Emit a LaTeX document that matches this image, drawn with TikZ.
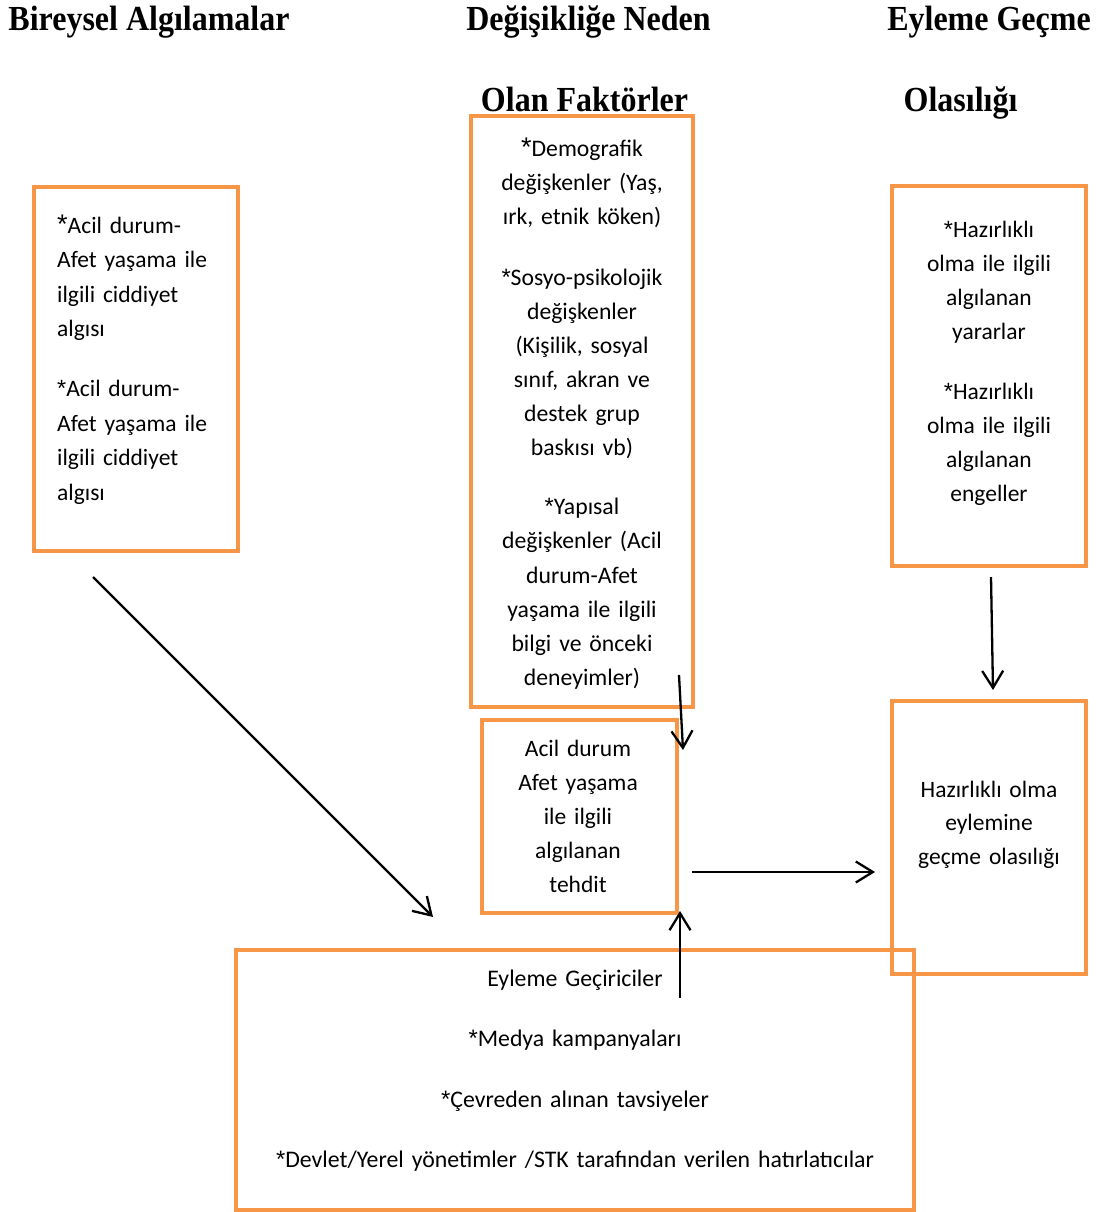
\documentclass[tikz,border=0pt]{standalone}
\usepackage{graphicx}
\usepackage{fontspec}
\setmainfont{Carlito}
\newfontfamily\headfont{Liberation Serif}
\newfontfamily\starfont{Liberation Sans}
\usetikzlibrary{arrows.meta}
\definecolor{boxorange}{RGB}{247,150,70}
\tikzset{
  obox/.style={draw=boxorange, line width=4pt, inner sep=0pt, rectangle},
  head/.style={font=\headfont\bfseries\fontsize{32}{32}\selectfont, inner sep=0pt, anchor=base},
  body/.style={font=\fontsize{23.5}{34.5}\selectfont, inner sep=0pt, anchor=base, align=center, text width=#1},
  body/.default=260pt,
  arr/.style={draw=black, line width=2.3pt, -{Straight Barb[length=17pt,width=21pt,line width=2.3pt]}}
}
% bullet asterisks
\newcommand{\bulletast}{{\starfont *}}
\newcommand{\bigbulletast}{{\starfont\fontsize{27}{27}\selectfont *}}
\begin{document}
\begin{tikzpicture}[x=1pt,y=-1pt]
\useasboundingbox (0,0) rectangle (1098,1212);

% column headings
\node[head] (h1) at (149,31) {\scalebox{1}[1.1]{Bireysel Algılamalar}};
\node[head] (h2) at (588.5,31) {\scalebox{1}[1.1]{Değişikliğe Neden}};
\node[head] (h3) at (989,31) {\scalebox{1}[1.1]{Eyleme Geçme}};
\node[head] (h4) at (584.5,112) {\scalebox{1}[1.1]{Olan Faktörler}};
\node[head] (h5) at (960.5,112) {\scalebox{1}[1.1]{Olasılığı}};

% frames
\node[obox, minimum width=204pt, minimum height=364pt] (lbox) at (136,369) {};
\node[obox, minimum width=222pt, minimum height=591pt] (fbox) at (582,411.5) {};
\node[obox, minimum width=195pt, minimum height=193pt] (tbox) at (579.5,816.5) {};
\node[obox, minimum width=194pt, minimum height=380pt] (pbox) at (989,376) {};
\node[obox, minimum width=194pt, minimum height=273pt] (obx) at (989,837.5) {};
\node[obox, minimum width=678pt, minimum height=260pt] (cbox) at (575,1080) {};

% texts inside the frames
\node[body=200pt, align=left, anchor=base west] (ltext) at (57,233)
  {\bigbulletast Acil durum-\\Afet yaşama ile\\ilgili ciddiyet\\algısı\\[25.5pt]
   \bulletast Acil durum-\\Afet yaşama ile\\ilgili ciddiyet\\algısı};
\node[body=220pt, font=\fontsize{23.7}{34}\selectfont] (ftext) at (582,157)
  {\bigbulletast Demografik\\değişkenler (Yaş,\\ırk, etnik köken)\\[26pt]
   \bulletast Sosyo-psikolojik\\değişkenler\\(Kişilik, sosyal\\sınıf, akran ve\\destek grup\\baskısı vb)\\[26pt]
   \bulletast Yapısal\\değişkenler (Acil\\durum-Afet\\yaşama ile ilgili\\bilgi ve önceki\\deneyimler)};
\node[body=190pt, font=\fontsize{23.5}{34}\selectfont] (ttext) at (578,756)
  {Acil durum\\Afet yaşama\\ile ilgili\\algılanan\\tehdit};
\node[body=190pt, font=\fontsize{23.5}{34}\selectfont] (ptext) at (989,237)
  {\bulletast Hazırlıklı\\olma ile ilgili\\algılanan\\yararlar\\[26pt]
   \bulletast Hazırlıklı\\olma ile ilgili\\algılanan\\engeller};
\node[body=190pt, font=\fontsize{23.5}{33.5}\selectfont] (otext) at (989,797)
  {Hazırlıklı olma\\eylemine\\geçme olasılığı};
\node[body=670pt, font=\fontsize{23.8}{60.5}\selectfont] (ctext) at (575,986)
  {Eyleme Geçiriciler\\\bulletast Medya kampanyaları\\\bulletast Çevreden alınan tavsiyeler\\\bulletast Devlet/Yerel yönetimler /STK tarafından verilen hatırlatıcılar};

% connector end points
\coordinate (a1s) at (93,577);
\coordinate (a1e) at (433,917);
\coordinate (a2s) at (679,675);
\coordinate (a2e) at (683,750);
\coordinate (a3s) at (692,872);
\coordinate (a3e) at (875,872);
\coordinate (a4s) at (680,998);
\coordinate (a4e) at (680,911);
\coordinate (a5s) at (991,577);
\coordinate (a5e) at (993,690);

% connectors
\draw[arr] (a1s) -- (a1e);
\draw[arr] (a2s) -- (a2e);
\draw[arr] (a3s) -- (a3e);
\draw[arr] (a4s) -- (a4e);
\draw[arr] (a5s) -- (a5e);
\end{tikzpicture}
\end{document}
